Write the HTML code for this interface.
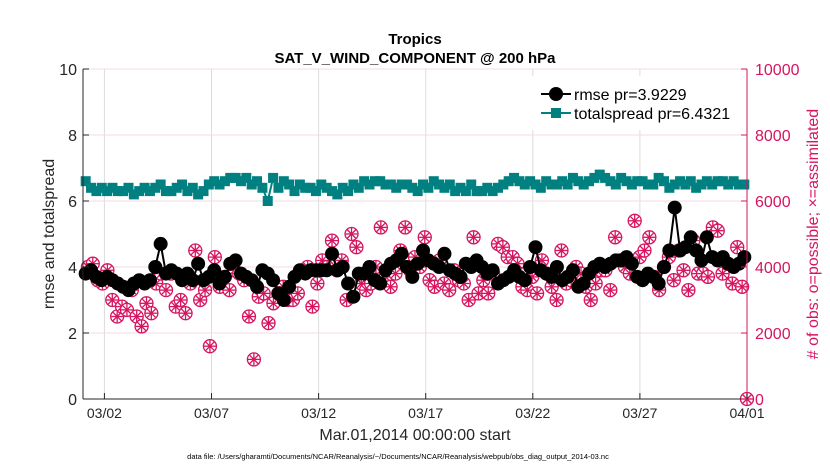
<!DOCTYPE html>
<html><head><meta charset="utf-8"><style>
body{margin:0;background:#fff;font-family:"Liberation Sans",Arial,sans-serif}
svg text{font-family:"Liberation Sans",Arial,sans-serif}
</style></head><body>
<svg id="c" width="830" height="470" xmlns="http://www.w3.org/2000/svg">
<rect width="830" height="470" fill="#fff"/>
<g id="grid"></g>
<g id="series"></g>
<g id="axes"></g>
</svg>
<script>
const xTicks=["03/02","03/07","03/12","03/17","03/22","03/27","04/01"];
const xTickDays=[1,6,11,16,21,26,31];
const yTicksL=[0,2,4,6,8,10];
const yTicksR=[0,2000,4000,6000,8000,10000];
const rmse=[3.8,3.9,3.7,3.6, 3.7,3.6,3.5,3.4, 3.3,3.5,3.6,3.5, 3.6,4.0,4.7,3.8, 3.9,3.8,3.6,3.8, 3.6,4.1,3.6,3.7, 3.9,3.5,3.7,4.1, 4.2,3.8,3.7,3.6,
 3.4,3.9,3.8,3.6, 3.2,3.0,3.4,3.7, 3.9,3.8,3.9,3.9, 3.9,3.9,4.4,3.9, 4.0,3.5,3.1,3.8, 3.8,4.0,3.6,3.5, 3.9,4.1,4.2,4.4, 4.0,3.7,4.1,4.5,
 4.2,4.1,4.0,4.4, 3.9,3.8,3.7,4.1, 4.0,4.2,4.0,3.8, 3.9,3.5,3.6,3.7, 3.9,3.7,3.6,4.0, 4.6,3.9,3.8,3.7, 4.0,3.6,3.7,3.9, 3.4,3.5,3.8,4.0,
 4.1,4.0,4.1,4.2, 4.2,4.3,4.1,3.7, 3.6,3.8,3.7,3.5, 4.0,4.5,5.8,4.5, 4.6,4.9,4.5,4.2, 4.9,4.3,4.2,4.3, 4.1,4.0,4.1,4.3];
const spread=[6.6,6.4,6.3,6.4, 6.3,6.4,6.3,6.3, 6.4,6.2,6.3,6.4, 6.3,6.4,6.5,6.3, 6.3,6.4,6.5,6.3, 6.4,6.2,6.3,6.5, 6.6,6.5,6.6,6.7, 6.7,6.6,6.7,6.5,
 6.6,6.4,6.0,6.7, 6.4,6.6,6.5,6.3, 6.5,6.4,6.4,6.3, 6.5,6.4,6.3,6.2, 6.4,6.3,6.5,6.4, 6.6,6.5,6.6,6.6, 6.5,6.5,6.4,6.5, 6.5,6.4,6.3,6.5,
 6.4,6.6,6.5,6.4, 6.5,6.3,6.4,6.3, 6.5,6.3,6.3,6.4, 6.3,6.4,6.5,6.6, 6.7,6.6,6.5,6.6, 6.5,6.4,6.6,6.5, 6.5,6.6,6.5,6.7, 6.6,6.5,6.6,6.7,
 6.8,6.7,6.6,6.5, 6.7,6.6,6.5,6.6, 6.6,6.5,6.5,6.7, 6.6,6.4,6.5,6.6, 6.5,6.6,6.4,6.5, 6.6,6.5,6.6,6.6, 6.5,6.6,6.5,6.5];
const obs=[4000,4100,3600,3500, 3900,3000,2500,2800, 2700,3300,2500,2200, 2900,2600,3500,3800, 3300,3800,2800,3000, 2600,3500,4500,3000,
 3300,1600,4300,3400, 3700,3300,3900,3800, 3600,2500,1200,3100, 3200,2300,2900,3200, 3400,3000,3000,3200, 3900,4000,2800,3500,
 4200,4000,4800,3900, 4200,3000,5000,4600, 3500,3300,3500,4000, 5200,3700,3400,3800, 4500,5200,3900,4300, 4000,4900,3600,3400,
 4200,3500,3300,3900, 3600,3500,3000,4900, 3200,3600,3200,3800, 4700,4600,4300,4300, 4100,3400,3300,3700, 3200,4200,3800,3400,
 3000,4500,3500,3600, 4000,3800,3400,3000, 3500,3900,3900,3300, 4900,4200,4000,3800, 5400,4300,4500,4900, 3700,3300,4000,4300,
 3600,4500,3900,3300, 4800,3800,3800,3700, 5200,5100,3800,4100, 3500,4600,3400,0];
const X0=83,X1=747,Y0=399,Y1=69;
const xs=d=>X0+(X1-X0)*d/31;
const yL=v=>Y0+(Y1-Y0)*v/10;
const yR=v=>Y0+(Y1-Y0)*v/10000;
const NS="http://www.w3.org/2000/svg";
function mk(p,t,a){const e=document.createElementNS(NS,t);for(const k in a)e.setAttribute(k,a[k]);p.appendChild(e);return e;}
const grid=document.getElementById('grid'),ser=document.getElementById('series'),ax=document.getElementById('axes');
xTickDays.forEach(d=>{const l=mk(grid,'line',{x1:xs(d),x2:xs(d),y1:Y1,y2:Y0,stroke:'#dcdcdc','stroke-width':1});

});
yTicksR.forEach(v=>{const l=mk(grid,'line',{x1:X0,x2:X1,y1:yR(v),y2:yR(v),stroke:'#f0dde4','stroke-width':1});

});
// obs
obs.forEach((v,i)=>{const x=xs((i+1)*31/obs.length),y=yR(v);const g=mk(ser,'g',{stroke:'#d6145f','stroke-width':1.3,fill:'none'});


mk(g,'circle',{cx:x,cy:y,r:6.5,fill:'#fff'});
for(let a=0;a<4;a++){const t=a*Math.PI/4;mk(g,'line',{x1:x-6*Math.cos(t),y1:y-6*Math.sin(t),x2:x+6*Math.cos(t),y2:y+6*Math.sin(t)});}});
function series(arr,color,marker,name){
 const pts=arr.map((v,i)=>[xs((i+0.5)*31/arr.length),yL(v)]);
 const pl=mk(ser,'polyline',{points:pts.map(p=>p.join(',')).join(' '),fill:'none',stroke:color,'stroke-width':2});
 
 
 pts.forEach(p=>{let m;if(marker==='c')m=mk(ser,'circle',{cx:p[0],cy:p[1],r:7,fill:color});
 else m=mk(ser,'rect',{x:p[0]-5,y:p[1]-5,width:10,height:10,fill:color});
 
 });
}
series(spread,'#008080','s','totalspread');
series(rmse,'#000','c','rmse');
// axes
let a=mk(ax,'line',{x1:X0,x2:X0,y1:Y1,y2:Y0,stroke:'#262626','stroke-width':1});

a=mk(ax,'line',{x1:X0,x2:X1,y1:Y0,y2:Y0,stroke:'#262626','stroke-width':1});

a=mk(ax,'line',{x1:X1,x2:X1,y1:Y1,y2:Y0,stroke:'#d6145f','stroke-width':1});

xTicks.forEach((t,i)=>{const x=xs(xTickDays[i]);mk(ax,'line',{x1:x,x2:x,y1:Y0,y2:Y0-6,stroke:'#262626'});
const e=mk(ax,'text',{x:x,y:Y0+19,'text-anchor':'middle','font-size':14,fill:'#262626'});e.textContent=t;

});
yTicksL.forEach(v=>{mk(ax,'line',{x1:X0,x2:X0+6,y1:yL(v),y2:yL(v),stroke:'#262626'});
const e=mk(ax,'text',{x:X0-6,y:yL(v)+6,'text-anchor':'end','font-size':16,fill:'#262626'});e.textContent=v;

});
yTicksR.forEach(v=>{mk(ax,'line',{x1:X1,x2:X1-6,y1:yR(v),y2:yR(v),stroke:'#d6145f'});
const e=mk(ax,'text',{x:X1+8,y:yR(v)+6,'font-size':16,fill:'#d6145f'});e.textContent=v;

});
</script>
<svg style="position:absolute;left:0;top:0" width="830" height="470" xmlns="http://www.w3.org/2000/svg">
<g>
<rect x="528" y="76" width="218" height="54" fill="#fff"/>
<line x1="541" y1="94" x2="571" y2="94" stroke="#000" stroke-width="2"/><circle cx="556" cy="94" r="7" fill="#000"/>
<text x="574" y="100" font-size="16" fill="#000">rmse pr=3.9229</text>
<line x1="541" y1="113" x2="571" y2="113" stroke="#008080" stroke-width="2"/><rect x="551" y="108" width="10" height="10" fill="#008080"/>
<text x="574" y="119" font-size="16" fill="#000">totalspread pr=6.4321</text>
</g>
<text x="415" y="44" text-anchor="middle" font-size="15" font-weight="bold">Tropics</text>
<text x="415" y="63" text-anchor="middle" font-size="15" font-weight="bold">SAT_V_WIND_COMPONENT @ 200 hPa</text>
<text x="415" y="440" text-anchor="middle" font-size="16" fill="#262626">Mar.01,2014 00:00:00 start</text>
<text transform="translate(54,234) rotate(-90)" text-anchor="middle" font-size="16" fill="#262626">rmse and totalspread</text>
<text transform="translate(818,234) rotate(-90)" text-anchor="middle" font-size="16" fill="#d6145f"># of obs: o=possible; ×=assimilated</text>
<text x="398" y="459" text-anchor="middle" font-size="7.5" fill="#000">data file: /Users/gharamti/Documents/NCAR/Reanalysis/~/Documents/NCAR/Reanalysis/webpub/obs_diag_output_2014-03.nc</text>
</svg>
</body></html>
